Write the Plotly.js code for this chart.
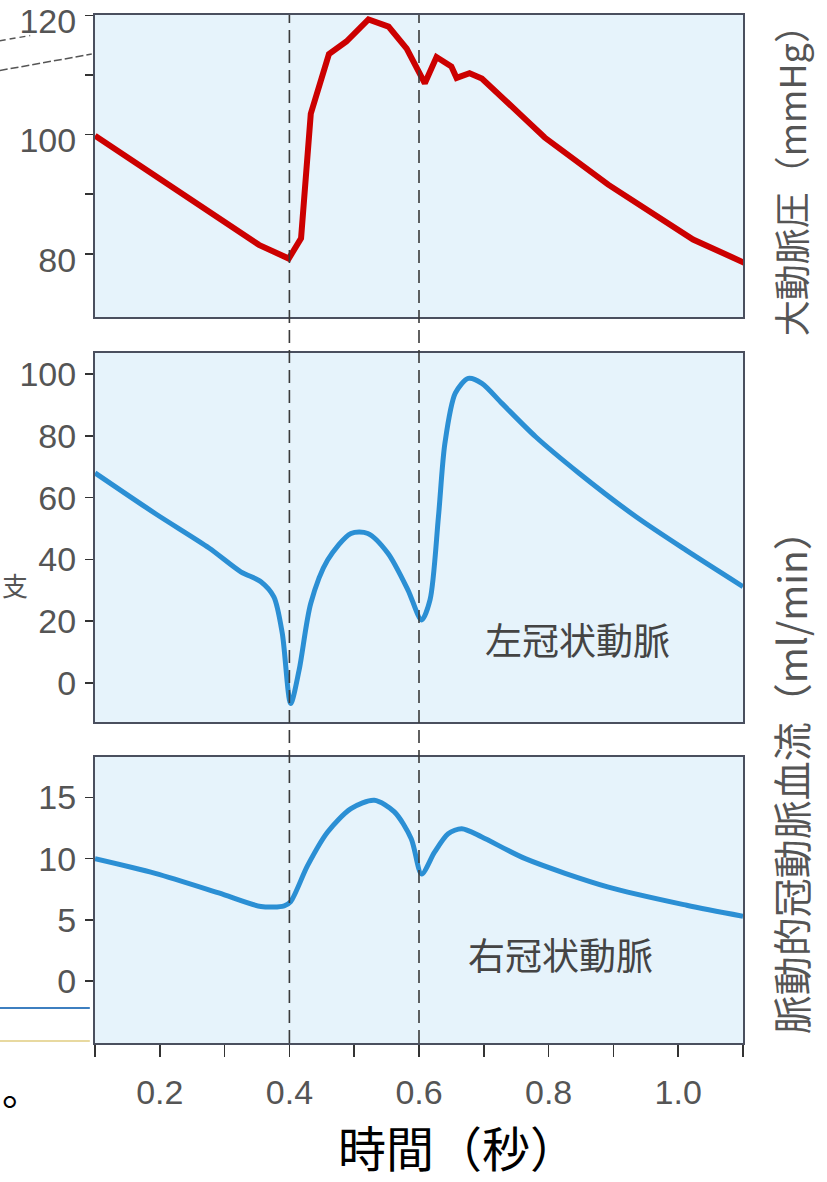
<!DOCTYPE html>
<html>
<head>
<meta charset="utf-8">
<script src="https://cdn.plot.ly/plotly-3.0.1.min.js"></script>
<style>
  html, body { margin: 0; padding: 0; background: #ffffff; }
  #chart { width: 827px; height: 1182px; }
</style>
</head>
<body>
<div id="chart"></div>
<script>
// ---- Data ----
// Aortic pressure (mmHg)
const timeAorta = [0.10, 0.222, 0.353, 0.399, 0.418, 0.433, 0.461, 0.488, 0.522, 0.553, 0.581, 0.609, 0.627, 0.650, 0.658, 0.678, 0.697, 0.759, 0.794, 0.892, 1.023, 1.104];
const pressure  = [99.8, 91.0, 81.5, 79.2, 82.6, 103.5, 113.5, 115.6, 119.3, 118.1, 114.4, 108.6, 113.0, 111.4, 109.5, 110.3, 109.4, 103.1, 99.5, 91.6, 82.4, 78.4];

// Left coronary artery flow (ml/min)
const timeLeft = [0.10, 0.194, 0.276, 0.325, 0.356, 0.376, 0.389, 0.402, 0.415, 0.433, 0.459, 0.495, 0.521, 0.552, 0.583, 0.604, 0.617, 0.630, 0.640, 0.656, 0.676, 0.697, 0.728, 0.780, 0.847, 0.935, 1.012, 1.10];
const flowLeft = [68.0, 54.7, 43.7, 36.0, 32.8, 27.9, 16.1, -6.6, 4.2, 25.8, 39.8, 48.4, 48.4, 42.0, 30.1, 20.4, 26.9, 53.8, 77.6, 93.8, 98.6, 97.0, 90.5, 79.7, 67.9, 53.8, 43.0, 31.2];

// Right coronary artery flow (ml/min)
const timeRight = [0.10, 0.193, 0.291, 0.356, 0.392, 0.402, 0.428, 0.459, 0.495, 0.531, 0.562, 0.588, 0.604, 0.624, 0.645, 0.666, 0.697, 0.764, 0.891, 1.013, 1.10];
const flowRight = [10.0, 8.8, 7.2, 6.1, 6.15, 6.5, 9.43, 12.18, 14.09, 14.77, 13.82, 11.63, 8.75, 10.53, 12.04, 12.45, 11.77, 10.0, 7.7, 6.2, 5.3];

// Event markers (s)
const eventTimes = [0.4, 0.6];

// Tick labels
const xTickVals = [0.2, 0.4, 0.6, 0.8, 1.0];
const xTickText = ["0.2", "0.4", "0.6", "0.8", "1.0"];
const yTopTicks = [80, 100, 120];
const yMidTicks = [0, 20, 40, 60, 80, 100];
const yBotTicks = [0, 5, 10, 15];

// Texts
const labelLeft = "左冠状動脈";
const labelRight = "右冠状動脈";
const titleX = "時間（秒）";
const titlePressure = "大動脈圧（mmHg）";
const titleFlow = "脈動的冠動脈血流（ml/min）";

// ---- Styling ----
const numFont = "Liberation Sans, Arial, sans-serif";
const cjkFont = "Noto Sans CJK JP, Noto Sans CJK SC, sans-serif";
const frameColor = "#4a4f5e";
const tickColor = "#333333";
const labelColor = "#555555";
const red = "#cc0000";
const blue = "#2b8fd4";

const traces = [
  { x: timeAorta, y: pressure, xaxis: "x3", yaxis: "y", mode: "lines",
    line: { color: red, width: 6, shape: "linear" }, hoverinfo: "x+y" },
  { x: timeLeft, y: flowLeft, xaxis: "x2", yaxis: "y2", mode: "lines",
    line: { color: blue, width: 5, shape: "spline", smoothing: 0.8 }, hoverinfo: "x+y" },
  { x: timeRight, y: flowRight, xaxis: "x", yaxis: "y3", mode: "lines",
    line: { color: blue, width: 5, shape: "spline", smoothing: 0.8 }, hoverinfo: "x+y" }
];

function yAx(domain, range, tickvals, minorVals, shift) {
  const a = {
    domain: domain, range: range, tickvals: tickvals,
    ticks: "outside", ticklen: 8, tickwidth: 1.5, tickcolor: tickColor,
    showline: true, mirror: true, linecolor: frameColor, linewidth: 2,
    showgrid: false, zeroline: false,
    tickfont: { family: numFont, size: 34, color: labelColor },
    ticklabelstandoff: 2, ticklabelshift: shift || 0,
    ticklabeloverflow: "allow", fixedrange: true
  };
  if (minorVals) {
    a.minor = { tickvals: minorVals, ticks: "outside", ticklen: 8, tickwidth: 1.5, tickcolor: tickColor, showgrid: false };
  }
  return a;
}

const xBase = {
  range: [0.1, 1.1], showgrid: false, zeroline: false,
  showline: true, mirror: true, linecolor: frameColor, linewidth: 2, fixedrange: true
};

const shapes = eventTimes.map(t => ({
  type: "line", xref: "x", yref: "paper", x0: t, x1: t, y0: 0, y1: 1,
  line: { color: "#3a3a3a", width: 1.6, dash: "13px,7px" }, layer: "above"
}));

// fragments of the neighbouring figure at the left edge of the scan
shapes.push({ type: "line", xref: "paper", yref: "paper", x0: -0.147, x1: -0.008, y0: 0.034, y1: 0.034,
  line: { color: "#3d7fc0", width: 2 } });
shapes.push({ type: "line", xref: "paper", yref: "paper", x0: -0.147, x1: -0.008, y0: 0.002, y1: 0.002,
  line: { color: "#e8d9a0", width: 2 } });
shapes.push({ type: "line", xref: "paper", yref: "paper", x0: -0.147, x1: -0.100, y0: 0.975, y1: 0.980,
  line: { color: "#555555", width: 1.5, dash: "6px,4px" } });
shapes.push({ type: "line", xref: "paper", yref: "paper", x0: -0.147, x1: -0.005, y0: 0.946, y1: 0.962,
  line: { color: "#555555", width: 1.5, dash: "8px,3px" } });

const annotations = [
  { text: labelLeft, xref: "x2", yref: "y2", x: 0.844, y: 14.2, showarrow: false,
    font: { family: cjkFont, size: 37, color: "#444444" } },
  { text: labelRight, xref: "x", yref: "y3", x: 0.818, y: 2.2, showarrow: false,
    font: { family: cjkFont, size: 37, color: "#444444" } },
  { text: titlePressure, xref: "paper", yref: "paper", x: 1.0725, y: 0.686,
    xanchor: "center", yanchor: "bottom", textangle: -90, showarrow: false,
    font: { family: cjkFont, size: 36, color: "#555555" } },
  { text: titleFlow, xref: "paper", yref: "paper", x: 1.0725, y: 0.007,
    xanchor: "center", yanchor: "bottom", textangle: -90, showarrow: false,
    font: { family: cjkFont, size: 39, color: "#555555" } },
  { text: "支", xref: "paper", yref: "paper", x: -0.147, y: 0.446,
    xanchor: "left", yanchor: "middle", showarrow: false,
    font: { family: cjkFont, size: 26, color: "#555555" } },
  { text: "。", xref: "paper", yref: "paper", x: -0.147, y: -0.044,
    xanchor: "left", yanchor: "middle", showarrow: false,
    font: { family: cjkFont, size: 40, color: "#000000" } },
  { text: titleX, xref: "paper", yref: "paper", x: 0.560, y: -0.1002,
    xanchor: "center", yanchor: "middle", showarrow: false,
    font: { family: cjkFont, size: 48, color: "#000000" } }
];

const layout = {
  width: 827, height: 1182,
  margin: { l: 95, r: 84, t: 15, b: 139, pad: 0 },
  paper_bgcolor: "#ffffff",
  plot_bgcolor: "#e6f3fb",
  showlegend: false,
  xaxis: Object.assign({}, xBase, {
    anchor: "y3",
    tickvals: xTickVals, ticktext: xTickText,
    ticks: "outside", ticklen: 12, tickwidth: 1.5, tickcolor: tickColor,
    minor: { dtick: 0.1, tick0: 0.1, ticks: "outside", ticklen: 12, tickwidth: 1.5, tickcolor: tickColor, showgrid: false },
    tickfont: { family: numFont, size: 34, color: labelColor },
    ticklabelstandoff: 6
  }),
  xaxis2: Object.assign({}, xBase, { anchor: "y2", matches: "x", showticklabels: false, ticks: "" }),
  xaxis3: Object.assign({}, xBase, { anchor: "y", matches: "x", showticklabels: false, ticks: "" }),
  yaxis: yAx([0.7062, 1.0], [69.4, 120.05], yTopTicks, [90, 110], 6),
  yaxis2: yAx([0.3123, 0.6712], [-12.6, 106.8], yMidTicks, null, 0),
  yaxis3: yAx([0.0, 0.2782], [-5.05, 18.3], yBotTicks, null, 0),
  shapes: shapes,
  annotations: annotations
};

Plotly.newPlot("chart", traces, layout, { displayModeBar: false, staticPlot: true });
</script>
</body>
</html>
